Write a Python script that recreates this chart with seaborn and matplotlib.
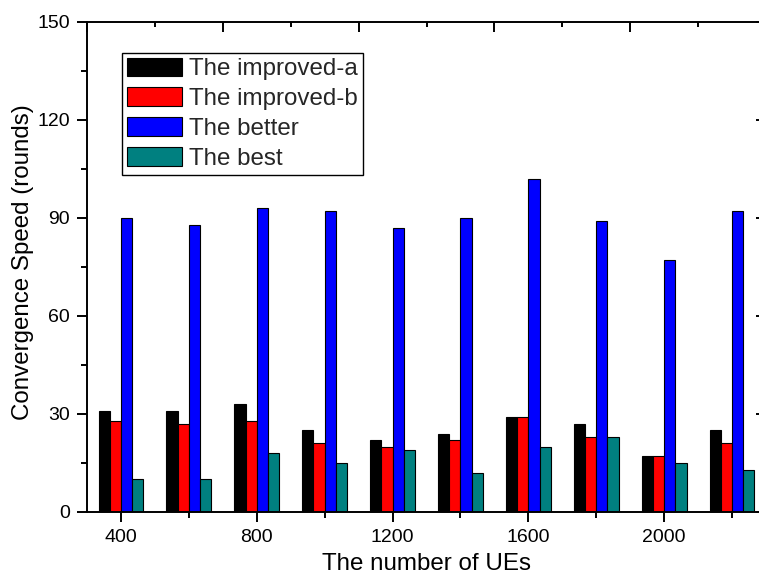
import numpy as np
import pandas as pd
import matplotlib
matplotlib.use("Agg")
import matplotlib.pyplot as plt
from matplotlib.ticker import MultipleLocator, FixedLocator, NullFormatter
import seaborn as sns

# Number of UEs per group
ues = [400, 600, 800, 1000, 1200, 1400, 1600, 1800, 2000, 2200]

# Convergence speed (rounds) for each scheme
improved_a = [31, 31, 33, 25, 22, 24, 29, 27, 17, 25]
improved_b = [28, 27, 28, 21, 20, 22, 29, 23, 17, 21]
better = [90, 88, 93, 92, 87, 90, 102, 89, 77, 92]
best = [10, 10, 18, 15, 19, 12, 20, 23, 15, 13]

schemes = ["The improved-a", "The improved-b", "The better", "The best"]
colors = ["#000000", "#FF0000", "#0000FF", "#008080"]

df = pd.DataFrame({
    "UEs": ues * 4,
    "rounds": improved_a + improved_b + better + best,
    "scheme": [s for s in schemes for _ in ues],
})

sns.set_theme(style="white")
plt.rcParams["font.family"] = ["Liberation Sans", "DejaVu Sans"]

W, H = 759, 578
fig = plt.figure(figsize=(W / 100, H / 100), dpi=100)
ax = fig.add_axes([87 / W, 1 - 512 / H, (766 - 87) / W, (512 - 22) / H])

sns.barplot(
    data=df, x="UEs", y="rounds", hue="scheme", hue_order=schemes,
    palette=colors, native_scale=True, width=0.66, dodge=True,
    edgecolor="black", linewidth=0.8, saturation=1, errorbar=None, ax=ax,
)

ax.set_xlim(300, 2300)
ax.set_ylim(0, 150)

for sp in ax.spines.values():
    sp.set_visible(True)
    sp.set_color("black")
    sp.set_linewidth(1.4)

ax.xaxis.set_major_locator(FixedLocator([400, 800, 1200, 1600, 2000]))
ax.xaxis.set_minor_locator(FixedLocator([600, 1000, 1400, 1800, 2200]))
ax.yaxis.set_major_locator(MultipleLocator(30))
ax.yaxis.set_minor_locator(MultipleLocator(15))

ax.tick_params(axis="both", which="both", direction="out", color="black",
               width=1.4, labelsize=14, labelcolor="black",
               bottom=True, left=True, top=False, right=False)
ax.tick_params(axis="both", which="major", length=7)
ax.tick_params(axis="both", which="minor", length=4)
ax.tick_params(axis="x", which="major", pad=5.5)
ax.tick_params(axis="y", which="major", pad=5.5)

# Mirror axes on top and right with inward ticks
top = ax.secondary_xaxis("top")
top.xaxis.set_major_locator(FixedLocator([300, 700, 1100, 1500, 1900, 2300]))
top.xaxis.set_minor_locator(FixedLocator([500, 900, 1300, 1700, 2100]))
top.xaxis.set_major_formatter(NullFormatter())
top.tick_params(which="both", direction="in", width=1.4, color="black")
top.tick_params(which="major", length=7)
top.tick_params(which="minor", length=3.5)
top.spines["top"].set_visible(False)

right = ax.secondary_yaxis("right")
right.yaxis.set_major_locator(MultipleLocator(30))
right.yaxis.set_minor_locator(MultipleLocator(15))
right.yaxis.set_major_formatter(NullFormatter())
right.tick_params(which="both", direction="in", width=1.4, color="black")
right.tick_params(which="major", length=7)
right.tick_params(which="minor", length=3.5)
right.spines["right"].set_visible(False)

ax.set_xlabel("The number of UEs", fontsize=17.4, color="black")
ax.set_ylabel("Convergence Speed (rounds)", fontsize=17.4, color="black")
ax.xaxis.set_label_coords(0.5, -0.083)
ax.yaxis.set_label_coords(-0.078, 0.51)

handles, labels = ax.get_legend_handles_labels()
leg = ax.legend(
    handles, labels, loc="upper left",
    bbox_to_anchor=((122 - 87) / (766 - 87), 1 - (52.7 - 22) / 490),
    fontsize=17.4, frameon=True, fancybox=False, shadow=False,
    edgecolor="black", framealpha=1, borderpad=0.2, labelspacing=0.29,
    handlelength=2.3, handleheight=0.83, handletextpad=0.27, borderaxespad=0,
)
leg.get_frame().set_linewidth(1.0)

fig.savefig("out.png", dpi=100)
